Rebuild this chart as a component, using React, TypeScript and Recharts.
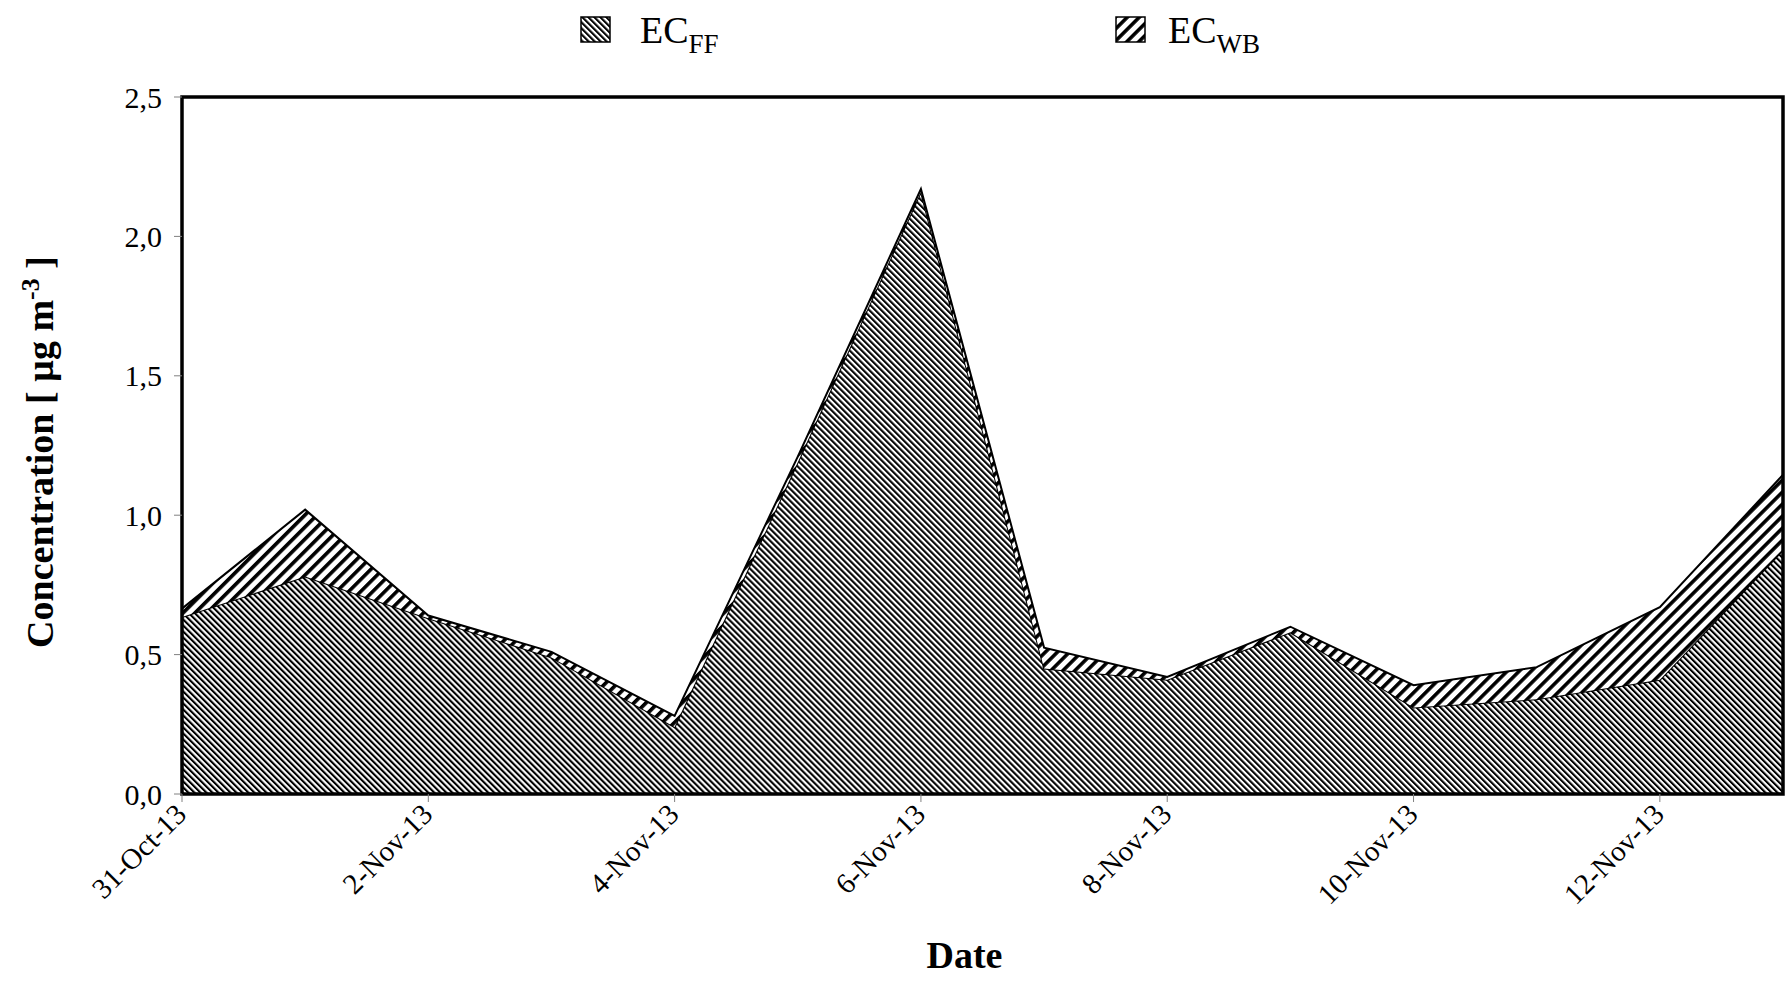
import React from "react";
import { AreaChart, Area, XAxis, YAxis, ReferenceArea, Legend } from "recharts";

// Sampling dates (daily)
const dates = [
  "31-Oct-13", "1-Nov-13", "2-Nov-13", "3-Nov-13", "4-Nov-13", "5-Nov-13", "6-Nov-13",
  "7-Nov-13", "8-Nov-13", "9-Nov-13", "10-Nov-13", "11-Nov-13", "12-Nov-13", "13-Nov-13",
];

// Elemental carbon from fossil fuel combustion [µg m-3]
const ecFF = [0.635, 0.78, 0.63, 0.49, 0.24, 1.19, 2.16, 0.45, 0.41, 0.58, 0.31, 0.34, 0.41, 0.875];

// Elemental carbon from wood burning [µg m-3]
const ecWB = [0.03, 0.24, 0.01, 0.02, 0.04, 0.02, 0.01, 0.075, 0.01, 0.02, 0.08, 0.115, 0.26, 0.27];

const yTicks = [0, 0.5, 1.0, 1.5, 2.0, 2.5];

const data = dates.map((date, i) => ({ date, ff: ecFF[i], wb: ecWB[i] }));

const FONT = "'Liberation Serif', 'Times New Roman', serif";

const HatchDefs = ({ prefix }: { prefix: string }) => (
  <defs>
    <pattern
      id={`${prefix}FF`}
      patternUnits="userSpaceOnUse"
      width={4.24}
      height={10}
      patternTransform="rotate(-45)"
    >
      <rect width={4.24} height={10} fill="#fff" />
      <rect width={2.1} height={10} fill="#000" />
    </pattern>
    <pattern
      id={`${prefix}WB`}
      patternUnits="userSpaceOnUse"
      width={8.5}
      height={10}
      patternTransform="rotate(45)"
    >
      <rect width={8.5} height={10} fill="#fff" />
      <rect width={3.6} height={10} fill="#000" />
    </pattern>
  </defs>
);

const LegendBox = () => (
  <svg
    width={1787}
    height={80}
    style={{ position: "absolute", left: 0, top: 0, overflow: "visible" }}
  >
    <HatchDefs prefix="leg" />
    <g fontFamily={FONT} fill="#000">
      <rect x={581} y={17} width={29} height={25} fill="url(#legFF)" stroke="#000" strokeWidth={1.5} />
      <text x={640} y={43} fontSize={38}>
        EC
        <tspan dy={10} fontSize={27}>FF</tspan>
      </text>
      <rect x={1116} y={17} width={29} height={25} fill="url(#legWB)" stroke="#000" strokeWidth={1.5} />
      <text x={1168} y={43} fontSize={38}>
        EC
        <tspan dy={10} fontSize={27}>WB</tspan>
      </text>
    </g>
  </svg>
);

const DateTick = (props: any) => {
  const { x, y, payload } = props;
  return (
    <text
      x={0}
      y={0}
      transform={`translate(${x + 6},${y + 14}) rotate(-45)`}
      textAnchor="end"
      fontSize={29}
      fontFamily={FONT}
      fill="#000"
    >
      {payload.value}
    </text>
  );
};

const DateTitle = (props: any) => {
  const vb = props.viewBox || { x: 182, y: 794, width: 1601, height: 190 };
  return (
    <text
      x={vb.x + vb.width / 2 - 18}
      y={vb.y + 174}
      textAnchor="middle"
      fontSize={38}
      fontWeight="bold"
      fontFamily={FONT}
      fill="#000"
    >
      Date
    </text>
  );
};

const ConcTitle = () => (
  <text
    x={0}
    y={0}
    transform="translate(53,452) rotate(-90)"
    textAnchor="middle"
    fontSize={38}
    fontWeight="bold"
    fontFamily={FONT}
    fill="#000"
  >
    Concentration [ µg m
    <tspan dy={-14} fontSize={26}>-3</tspan>
    <tspan dy={14}> ]</tspan>
  </text>
);

export default function App() {
  return (
    <div style={{ position: "absolute", left: 0, top: 0, background: "#fff" }}>
      <AreaChart
        width={1787}
        height={984}
        data={data}
        margin={{ top: 97, right: 4, bottom: 0, left: 100 }}
        style={{ fontFamily: FONT }}
      >
        <HatchDefs prefix="hatch" />
        <Legend
          verticalAlign="top"
          wrapperStyle={{ top: 0, left: 0, width: 1787, height: 0, overflow: "visible" }}
          content={() => <LegendBox />}
        />
        <XAxis
          dataKey="date"
          type="category"
          interval={1}
          height={190}
          tick={<DateTick />}
          tickSize={8}
          tickMargin={0}
          tickLine={{ stroke: "#808080", strokeWidth: 1 }}
          axisLine={false}
          label={<DateTitle />}
        />
        <YAxis
          domain={[0, 2.5]}
          ticks={yTicks}
          width={82}
          tickSize={8}
          tickMargin={12}
          tickLine={{ stroke: "#808080", strokeWidth: 1 }}
          axisLine={false}
          tick={{ fill: "#000", fontSize: 30, fontFamily: FONT }}
          tickFormatter={(v: number) => v.toFixed(1).replace(".", ",")}
          label={<ConcTitle />}
        />
        <Area
          type="linear"
          dataKey="ff"
          stackId="ec"
          fill="url(#hatchFF)"
          fillOpacity={1}
          stroke="#000"
          strokeWidth={2}
          dot={false}
          activeDot={false}
          isAnimationActive={false}
        />
        <Area
          type="linear"
          dataKey="wb"
          stackId="ec"
          fill="url(#hatchWB)"
          fillOpacity={1}
          stroke="#000"
          strokeWidth={2}
          dot={false}
          activeDot={false}
          isAnimationActive={false}
        />
        <ReferenceArea
          x1={dates[0]}
          x2={dates[dates.length - 1]}
          y1={0}
          y2={2.5}
          fill="none"
          stroke="#000"
          strokeWidth={3.5}
          ifOverflow="visible"
        />
      </AreaChart>
    </div>
  );
}
